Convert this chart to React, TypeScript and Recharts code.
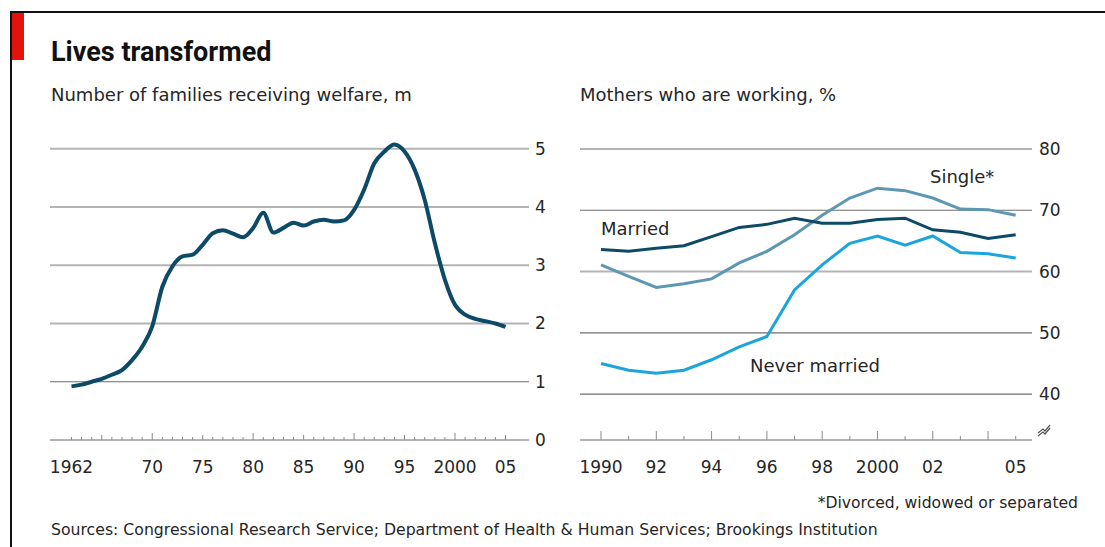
import React from 'react';
import { LineChart, Line, XAxis, YAxis, ReferenceLine } from 'recharts';

// ---------- Data: left panel (families receiving welfare, millions) ----------
const welfareYears = [
  1962, 1963, 1964, 1965, 1966, 1967, 1968, 1969, 1970, 1971, 1972, 1973, 1974, 1975,
  1976, 1977, 1978, 1979, 1980, 1981, 1982, 1983, 1984, 1985, 1986, 1987, 1988, 1989,
  1990, 1991, 1992, 1993, 1994, 1995, 1996, 1997, 1998, 1999, 2000, 2001, 2002, 2003,
  2004, 2005,
];
const welfareFamilies = [
  0.92, 0.95, 1.0, 1.05, 1.12, 1.2, 1.37, 1.6, 1.95, 2.63, 2.98, 3.15, 3.18, 3.35,
  3.55, 3.6, 3.54, 3.48, 3.64, 3.9, 3.56, 3.64, 3.73, 3.68, 3.75, 3.78, 3.75, 3.77,
  3.95, 4.3, 4.75, 4.95, 5.07, 4.95, 4.64, 4.12, 3.38, 2.75, 2.32, 2.15, 2.08, 2.04,
  2.0, 1.94,
];
const welfareYTicks = [1, 2, 3, 4, 5];
const welfareYLabels = [0, 1, 2, 3, 4, 5];
const welfareXTicks = welfareYears;
const welfareXLabelYears = [1962, 1970, 1975, 1980, 1985, 1990, 1995, 2000, 2005];
const welfareXLabelText = ['1962', '70', '75', '80', '85', '90', '95', '2000', '05'];

// ---------- Data: right panel (mothers who are working, %) ----------
const mothersYears = [
  1990, 1991, 1992, 1993, 1994, 1995, 1996, 1997, 1998, 1999, 2000, 2001, 2002, 2003, 2004, 2005,
];
const married = [63.6, 63.3, 63.8, 64.2, 65.7, 67.2, 67.7, 68.7, 67.9, 67.9, 68.5, 68.7, 66.8, 66.4, 65.4, 66.0];
const single = [61.1, 59.2, 57.4, 58.0, 58.8, 61.4, 63.3, 66.0, 69.2, 72.0, 73.6, 73.2, 72.0, 70.2, 70.1, 69.2];
const neverMarried = [45.0, 43.9, 43.4, 43.9, 45.6, 47.7, 49.4, 57.0, 61.1, 64.6, 65.8, 64.3, 65.8, 63.1, 62.9, 62.2];
const mothersYTicks = [40, 50, 60, 70, 80];
const mothersXLabelYears = [1990, 1992, 1994, 1996, 1998, 2000, 2002, 2005];
const mothersXLabelText = ['1990', '92', '94', '96', '98', '2000', '02', '05'];

const welfareData = welfareYears.map((year, i) => ({ year, families: welfareFamilies[i] }));
const mothersData = mothersYears.map((year, i) => ({
  year,
  married: married[i],
  single: single[i],
  never: neverMarried[i],
}));

// ---------- Styles ----------
const FONT = '"DejaVu Sans", "Noto Sans", sans-serif';
const TITLE_FONT = 'Roboto, "Noto Sans", sans-serif';
const TEXT = '#262626';
const DARK = '#0c4a67';
const MID = '#5e97b1';
const BRIGHT = '#1ba5dd';
const GRID_LIGHT = '#b4b4b4';
const GRID_DARK = '#6e6e6e';
const welfareDarkGrid = [1];
const mothersDarkGrid = [70, 50, 40];

const WelfareTick = (props: any) => {
  const { x, y, payload } = props;
  const yr = payload.value as number;
  const len = yr % 10 === 0 ? 7 : yr % 5 === 0 ? 5 : 3;
  const idx = welfareXLabelYears.indexOf(yr);
  return (
    <g>
      <line x1={x} x2={x} y1={y} y2={y - len} stroke="#8a8a8a" strokeWidth={1} />
      {idx >= 0 && (
        <text x={x} y={y + 33} textAnchor="middle" fill={TEXT} fontSize={17} fontFamily={FONT}>
          {welfareXLabelText[idx]}
        </text>
      )}
    </g>
  );
};

const MothersTick = (props: any) => {
  const { x, y, payload } = props;
  const yr = payload.value as number;
  const len = yr % 2 === 0 ? 9 : 4;
  const idx = mothersXLabelYears.indexOf(yr);
  return (
    <g>
      <line x1={x} x2={x} y1={y} y2={y - len} stroke="#8a8a8a" strokeWidth={1} />
      {idx >= 0 && (
        <text x={x} y={y + 33} textAnchor="middle" fill={TEXT} fontSize={17} fontFamily={FONT}>
          {mothersXLabelText[idx]}
        </text>
      )}
    </g>
  );
};

const yTickStyle = { fill: TEXT, fontSize: 17, fontFamily: FONT };

export default function App() {
  return (
    <div style={{ position: 'absolute', left: 0, top: 0, width: 1105, height: 547, background: '#fff', fontFamily: FONT, overflow: 'hidden' }}>
      {/* frame */}
      <div style={{ position: 'absolute', left: 10, top: 11, width: 1095, height: 2, background: '#111' }} />
      <div style={{ position: 'absolute', left: 10, top: 11, width: 2, height: 536, background: '#111' }} />
      <div style={{ position: 'absolute', left: 12, top: 13, width: 12, height: 47, background: '#e3120b' }} />

      {/* titles */}
      <div style={{ position: 'absolute', left: 51, top: 36, fontSize: 27, fontWeight: 700, color: '#111', whiteSpace: 'nowrap', fontFamily: TITLE_FONT }}>
        Lives transformed
      </div>
      <div style={{ position: 'absolute', left: 51, top: 84, fontSize: 18, color: TEXT, whiteSpace: 'nowrap' }}>
        Number of families receiving welfare, m
      </div>
      <div style={{ position: 'absolute', left: 580, top: 84, fontSize: 18, color: TEXT, whiteSpace: 'nowrap' }}>
        Mothers who are working, %
      </div>

      {/* left chart */}
      <div style={{ position: 'absolute', left: 0, top: 0 }}>
        <LineChart width={560} height={480} data={welfareData} margin={{ top: 137, right: 1, bottom: 0, left: 50 }}>
          <XAxis
            dataKey="year"
            type="number"
            domain={[1959.87, 2007.33]}
            ticks={welfareXTicks}
            interval={0}
            tick={<WelfareTick />}
            tickLine={false}
            tickSize={0}
            tickMargin={0}
            height={40}
            axisLine={{ stroke: GRID_LIGHT, strokeWidth: 2 }}
          />
          <YAxis
            orientation="right"
            type="number"
            domain={[0, 5.2]}
            ticks={welfareYLabels}
            interval={0}
            axisLine={false}
            tickLine={false}
            tickSize={0}
            tickMargin={6}
            width={30}
            tick={yTickStyle}
          />
          {welfareYTicks.map((v) => (
            <ReferenceLine
              key={v}
              y={v}
              stroke={welfareDarkGrid.includes(v) ? GRID_DARK : GRID_LIGHT}
              strokeWidth={welfareDarkGrid.includes(v) ? 1.2 : 2}
            />
          ))}
          <Line type="monotone" dataKey="families" stroke={DARK} strokeWidth={4} dot={false} isAnimationActive={false} />
        </LineChart>
      </div>

      {/* right chart */}
      <div style={{ position: 'absolute', left: 560, top: 0 }}>
        <LineChart width={545} height={480} data={mothersData} margin={{ top: 149, right: 33, bottom: 0, left: 20 }}>
          <XAxis
            dataKey="year"
            type="number"
            domain={[1989.24, 2005.59]}
            ticks={mothersYears}
            interval={0}
            tick={<MothersTick />}
            tickLine={false}
            tickSize={0}
            tickMargin={0}
            height={40}
            axisLine={{ stroke: GRID_LIGHT, strokeWidth: 2 }}
          />
          <YAxis
            orientation="right"
            type="number"
            domain={[32.5, 80]}
            ticks={mothersYTicks}
            interval={0}
            axisLine={false}
            tickLine={false}
            tickSize={0}
            tickMargin={7}
            width={40}
            tick={yTickStyle}
          />
          {mothersYTicks.map((v) => (
            <ReferenceLine
              key={v}
              y={v}
              stroke={mothersDarkGrid.includes(v) ? GRID_DARK : GRID_LIGHT}
              strokeWidth={mothersDarkGrid.includes(v) ? 1.2 : 2}
            />
          ))}
          <Line type="linear" dataKey="single" stroke={MID} strokeWidth={3} dot={false} isAnimationActive={false} />
          <Line type="linear" dataKey="married" stroke={DARK} strokeWidth={3} dot={false} isAnimationActive={false} />
          <Line type="linear" dataKey="never" stroke={BRIGHT} strokeWidth={3} dot={false} isAnimationActive={false} />
        </LineChart>
      </div>

      {/* axis break symbol */}
      <svg style={{ position: 'absolute', left: 1036, top: 424 }} width={16} height={16}>
        <path d="M2,12 L7,8 L9,10 L14,4" fill="none" stroke="#555" strokeWidth={1.2} />
        <path d="M2,9 L7,5 L9,7 L14,1" fill="none" stroke="#555" strokeWidth={1.2} />
      </svg>

      {/* series labels */}
      <div style={{ position: 'absolute', left: 601, top: 218, fontSize: 18, color: TEXT, whiteSpace: 'nowrap' }}>Married</div>
      <div style={{ position: 'absolute', left: 930, top: 166, fontSize: 18, color: TEXT, whiteSpace: 'nowrap' }}>Single*</div>
      <div style={{ position: 'absolute', left: 750, top: 355, fontSize: 18, color: TEXT, whiteSpace: 'nowrap' }}>Never married</div>

      {/* footnotes */}
      <div style={{ position: 'absolute', right: 27, top: 494, fontSize: 15.6, color: TEXT, whiteSpace: 'nowrap' }}>
        *Divorced, widowed or separated
      </div>
      <div style={{ position: 'absolute', left: 51, top: 520, fontSize: 15.7, color: TEXT, whiteSpace: 'nowrap' }}>
        Sources: Congressional Research Service; Department of Health &amp; Human Services; Brookings Institution
      </div>
    </div>
  );
}
